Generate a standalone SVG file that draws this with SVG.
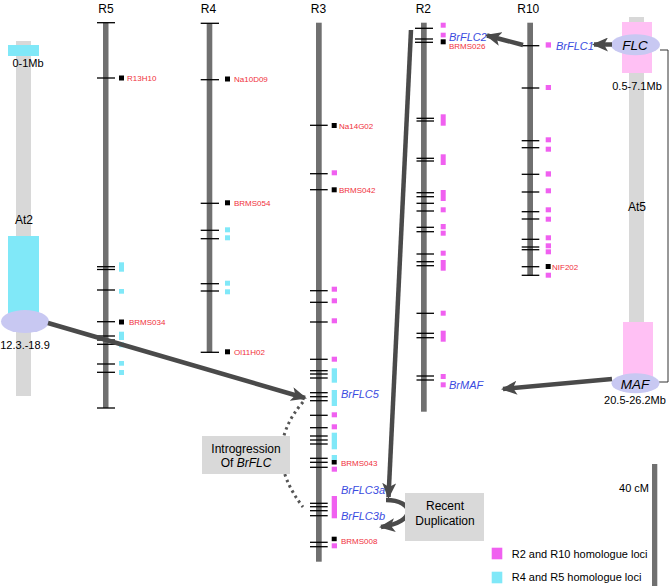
<svg xmlns="http://www.w3.org/2000/svg" width="670" height="586" viewBox="0 0 670 586">
<style>
.bar{fill:#707070}
.at{fill:#d8d8d8}
.tk{stroke:#000;stroke-width:1.3}
.m{fill:#f060f0}
.c{fill:#80e8f8}
.k{fill:#000}
.lab{font-family:"Liberation Sans",Arial,sans-serif;font-size:12px;fill:#000}
.mk{font-family:"Liberation Sans",Arial,sans-serif;font-size:8px;fill:#f0303c}
.gn{font-family:"Liberation Sans",Arial,sans-serif;font-size:11px;font-style:italic;fill:#3a4be0}
.sm{font-family:"Liberation Sans",Arial,sans-serif;font-size:11px;fill:#000}
.arr{stroke:#4a4a4a;stroke-width:4.5;fill:none}
.box{fill:#d9d9d9}
.ell{fill:#c8c8f2}
</style>
<defs>
<marker id="ah" markerUnits="userSpaceOnUse" markerWidth="16" markerHeight="14" refX="14" refY="7" orient="auto">
<path d="M0,0 L16,7 L0,14 L4,7 Z" fill="#4a4a4a"/>
</marker>
</defs>

<g id="At2">
<rect class="at" x="16" y="41" width="15" height="355"/>
<rect class="c" x="8" y="45" width="31" height="11"/>
<text class="sm" x="28" y="67" text-anchor="middle">0-1Mb</text>
<text class="lab" x="24" y="224" text-anchor="middle" font-size="12.5">At2</text>
<rect class="c" x="8" y="236" width="31" height="80"/>
<ellipse class="ell" cx="25" cy="321.5" rx="24" ry="11.5"/>
<text class="sm" x="25" y="349" text-anchor="middle">12.3.-18.9</text>
</g>

<g id="At5">
<rect class="at" x="629" y="17" width="15" height="375"/>
<rect fill="#ffc0f4" x="622" y="22" width="30" height="51"/>
<rect fill="#ffc0f4" x="623" y="322" width="30" height="55"/>
<polyline points="660,50 668,50 668,382 659,382" fill="none" stroke="#333" stroke-width="1"/>
<ellipse class="ell" cx="635.5" cy="44.7" rx="24.5" ry="10.5"/>
<text x="635" y="50" text-anchor="middle" font-family="Liberation Sans,Arial,sans-serif" font-size="13.5" font-style="italic">FLC</text>
<text class="sm" x="637" y="90" text-anchor="middle">0.5-7.1Mb</text>
<text class="lab" x="637" y="211" text-anchor="middle" font-size="12.5">At5</text>
<ellipse class="ell" cx="635.5" cy="383.3" rx="24" ry="10"/>
<text x="635" y="389" text-anchor="middle" font-family="Liberation Sans,Arial,sans-serif" font-size="13.5" font-style="italic">MAF</text>
<text class="sm" x="635" y="404" text-anchor="middle">20.5-26.2Mb</text>
</g>

<g id="R5">
<text class="lab" x="106" y="13" text-anchor="middle">R5</text>
<rect class="bar" x="103" y="22.7" width="5.5" height="385.3"/>
<g class="tk">
<line x1="97" x2="115" y1="22.7" y2="22.7"/><line x1="97" x2="115" y1="78" y2="78"/>
<line x1="97" x2="115" y1="266.7" y2="266.7"/><line x1="97" x2="115" y1="269.5" y2="269.5"/>
<line x1="97" x2="115" y1="290" y2="290"/><line x1="97" x2="115" y1="321.7" y2="321.7"/>
<line x1="97" x2="115" y1="336" y2="336"/><line x1="97" x2="115" y1="340" y2="340"/>
<line x1="97" x2="115" y1="344.3" y2="344.3"/><line x1="97" x2="115" y1="364" y2="364"/>
<line x1="97" x2="115" y1="372.3" y2="372.3"/><line x1="97" x2="115" y1="408" y2="408"/>
</g>
<rect class="k" x="119" y="75.5" width="5" height="5"/>
<text class="mk" x="127" y="81">R13H10</text>
<rect class="c" x="119" y="262.3" width="5" height="9.4"/>
<rect class="c" x="119" y="289" width="5" height="4.7"/>
<rect class="k" x="119" y="319.5" width="5" height="5"/>
<text class="mk" x="129" y="325">BRMS034</text>
<rect class="c" x="119" y="331.7" width="5" height="8.3"/>
<rect class="c" x="119" y="342.3" width="5" height="5"/>
<rect class="c" x="119" y="361" width="5" height="4.7"/>
<rect class="c" x="119" y="370" width="5" height="5"/>
</g>

<g id="R4">
<text class="lab" x="208.5" y="13" text-anchor="middle">R4</text>
<rect class="bar" x="206.7" y="23.3" width="5.6" height="329"/>
<g class="tk">
<line x1="200.7" x2="219" y1="23.3" y2="23.3"/><line x1="200.7" x2="219" y1="79.7" y2="79.7"/>
<line x1="200.7" x2="219" y1="203.3" y2="203.3"/><line x1="200.7" x2="219" y1="230.3" y2="230.3"/>
<line x1="200.7" x2="219" y1="238.7" y2="238.7"/><line x1="200.7" x2="219" y1="283.7" y2="283.7"/>
<line x1="200.7" x2="219" y1="291" y2="291"/><line x1="200.7" x2="219" y1="352.3" y2="352.3"/>
</g>
<rect class="k" x="225" y="76.5" width="5" height="5"/>
<text class="mk" x="234" y="82">Na10D09</text>
<rect class="k" x="225" y="200.3" width="5" height="5"/>
<text class="mk" x="234" y="206">BRMS054</text>
<rect class="c" x="225" y="227.3" width="5" height="5"/>
<rect class="c" x="225" y="235.3" width="5" height="5"/>
<rect class="c" x="225" y="280.7" width="5" height="5"/>
<rect class="c" x="225" y="289.3" width="5" height="5"/>
<rect class="k" x="225" y="349.3" width="5" height="5"/>
<text class="mk" x="234" y="355">Ol11H02</text>
</g>

<g id="R3">
<text class="lab" x="318.5" y="13" text-anchor="middle">R3</text>
<rect class="bar" x="316" y="22.7" width="5.7" height="539"/>
<g class="tk">
<line x1="310" x2="327.7" y1="125.3" y2="125.3"/><line x1="310" x2="327.7" y1="173.7" y2="173.7"/>
<line x1="310" x2="327.7" y1="189.7" y2="189.7"/><line x1="310" x2="327.7" y1="290.7" y2="290.7"/>
<line x1="310" x2="327.7" y1="302.3" y2="302.3"/><line x1="310" x2="327.7" y1="322" y2="322"/>
<line x1="310" x2="327.7" y1="359.3" y2="359.3"/><line x1="310" x2="327.7" y1="370.7" y2="370.7"/>
<line x1="310" x2="327.7" y1="374" y2="374"/><line x1="310" x2="327.7" y1="378" y2="378"/>
<line x1="310" x2="327.7" y1="392.7" y2="392.7"/><line x1="310" x2="327.7" y1="396.7" y2="396.7"/>
<line x1="310" x2="327.7" y1="400.7" y2="400.7"/><line x1="310" x2="327.7" y1="415.3" y2="415.3"/>
<line x1="310" x2="327.7" y1="427.7" y2="427.7"/><line x1="310" x2="327.7" y1="436" y2="436"/>
<line x1="310" x2="327.7" y1="440" y2="440"/><line x1="310" x2="327.7" y1="444" y2="444"/>
<line x1="310" x2="327.7" y1="458.3" y2="458.3"/><line x1="310" x2="327.7" y1="462.3" y2="462.3"/>
<line x1="310" x2="327.7" y1="467.3" y2="467.3"/><line x1="310" x2="327.7" y1="503.3" y2="503.3"/>
<line x1="310" x2="327.7" y1="506.7" y2="506.7"/><line x1="310" x2="327.7" y1="510.7" y2="510.7"/>
<line x1="310" x2="327.7" y1="515.7" y2="515.7"/><line x1="310" x2="327.7" y1="542.3" y2="542.3"/>
<line x1="310" x2="327.7" y1="546.7" y2="546.7"/>
</g>
<rect class="k" x="331.7" y="123" width="5" height="5"/>
<text class="mk" x="339" y="129">Na14G02</text>
<rect class="m" x="331.7" y="170.3" width="5.3" height="5"/>
<rect class="k" x="331.7" y="187.3" width="5" height="5"/>
<text class="mk" x="339" y="193">BRMS042</text>
<rect class="m" x="331.7" y="286.7" width="5.3" height="5"/>
<rect class="m" x="331.7" y="298.3" width="5.3" height="5"/>
<rect class="m" x="331.7" y="318.3" width="5.3" height="5"/>
<rect class="m" x="331.7" y="356.7" width="5.3" height="5"/>
<rect class="c" x="331.7" y="368.3" width="5.3" height="14.4"/>
<rect class="c" x="331.7" y="390" width="5.3" height="16"/>
<text class="gn" x="341" y="398">BrFLC5</text>
<rect class="m" x="331.7" y="412.3" width="5.3" height="5"/>
<rect class="m" x="331.7" y="424.3" width="5.3" height="5"/>
<rect class="c" x="331.7" y="432.7" width="5.3" height="16.6"/>
<rect class="c" x="331.7" y="455" width="5.3" height="5"/>
<rect class="k" x="331.7" y="460" width="5" height="4.5"/>
<text class="mk" x="341" y="466">BRMS043</text>
<rect class="m" x="331.7" y="466.7" width="5.3" height="5"/>
<rect class="m" x="331.7" y="496" width="5.3" height="22.3"/>
<text class="gn" x="341" y="494">BrFLC3a</text>
<text class="gn" x="341" y="519.5">BrFLC3b</text>
<rect class="k" x="331.7" y="536.7" width="5" height="4.5"/>
<text class="mk" x="341" y="543.5">BRMS008</text>
<rect class="m" x="331.7" y="543.3" width="5.3" height="5"/>
</g>

<g id="R2">
<text class="lab" x="423.3" y="13" text-anchor="middle">R2</text>
<rect class="bar" x="421" y="22.7" width="5.7" height="389"/>
<g class="tk">
<line x1="415" x2="433" y1="28.3" y2="28.3"/><line x1="415" x2="433" y1="39" y2="39"/>
<line x1="415" x2="433" y1="42.3" y2="42.3"/><line x1="416.5" x2="434" y1="118.3" y2="118.3"/>
<line x1="416.5" x2="434" y1="121" y2="121"/><line x1="416.5" x2="434" y1="158.3" y2="158.3"/>
<line x1="416.5" x2="434" y1="161" y2="161"/><line x1="416.5" x2="434" y1="192.7" y2="192.7"/>
<line x1="416.5" x2="434" y1="196.7" y2="196.7"/><line x1="416.5" x2="434" y1="203.3" y2="203.3"/>
<line x1="416.5" x2="434" y1="211" y2="211"/><line x1="416.5" x2="434" y1="227.3" y2="227.3"/>
<line x1="416.5" x2="434" y1="231.7" y2="231.7"/><line x1="416.5" x2="434" y1="254" y2="254"/>
<line x1="416.5" x2="434" y1="261.7" y2="261.7"/><line x1="416.5" x2="434" y1="265.7" y2="265.7"/>
<line x1="416.5" x2="434" y1="313.3" y2="313.3"/><line x1="416.5" x2="434" y1="333.3" y2="333.3"/>
<line x1="416.5" x2="434" y1="337.7" y2="337.7"/><line x1="416.5" x2="434" y1="376" y2="376"/>
<line x1="416.5" x2="434" y1="380" y2="380"/>
</g>
<rect class="m" x="440.7" y="22.7" width="5" height="5"/>
<rect class="m" x="440.7" y="32.7" width="5" height="4.7"/>
<text class="gn" x="449" y="40.5">BrFLC2</text>
<rect class="k" x="440.7" y="39.3" width="5" height="5"/>
<text class="mk" x="449" y="49">BRMS026</text>
<rect class="m" x="440.7" y="114.3" width="5" height="11.4"/>
<rect class="m" x="440.7" y="154.3" width="5" height="10.7"/>
<rect class="m" x="440.7" y="190" width="5" height="11"/>
<rect class="m" x="440.7" y="207.3" width="5" height="5"/>
<rect class="m" x="440.7" y="224" width="5" height="5.3"/>
<rect class="m" x="440.7" y="230.7" width="5" height="5"/>
<rect class="m" x="440.7" y="250.7" width="5" height="5"/>
<rect class="m" x="440.7" y="260" width="5" height="10.7"/>
<rect class="m" x="440.7" y="310.7" width="5" height="5"/>
<rect class="m" x="440.7" y="330.7" width="5" height="11"/>
<rect class="m" x="440.7" y="374" width="5" height="5"/>
<rect class="m" x="440.7" y="382.3" width="5" height="5"/>
<text class="gn" x="449" y="389">BrMAF</text>
</g>

<g id="R10">
<text class="lab" x="528.3" y="13" text-anchor="middle">R10</text>
<rect class="bar" x="527.3" y="22.7" width="5.7" height="253.3"/>
<g class="tk">
<line x1="521.7" x2="539.3" y1="45.7" y2="45.7"/><line x1="521.7" x2="539.3" y1="88" y2="88"/>
<line x1="521.7" x2="539.3" y1="140.7" y2="140.7"/><line x1="521.7" x2="539.3" y1="147.7" y2="147.7"/>
<line x1="521.7" x2="539.3" y1="174.3" y2="174.3"/><line x1="521.7" x2="539.3" y1="192" y2="192"/>
<line x1="521.7" x2="539.3" y1="211.7" y2="211.7"/><line x1="521.7" x2="539.3" y1="219" y2="219"/>
<line x1="521.7" x2="539.3" y1="239.3" y2="239.3"/><line x1="521.7" x2="539.3" y1="247" y2="247"/>
<line x1="521.7" x2="539.3" y1="249.7" y2="249.7"/><line x1="521.7" x2="539.3" y1="266.7" y2="266.7"/>
<line x1="521.7" x2="539.3" y1="275.3" y2="275.3"/>
</g>
<rect class="m" x="545.7" y="42.3" width="5.3" height="5.3"/>
<text class="gn" x="556" y="49.5">BrFLC1</text>
<rect class="m" x="545.7" y="85" width="5.3" height="5"/>
<rect class="m" x="545.7" y="137.3" width="5.3" height="5"/>
<rect class="m" x="545.7" y="146.7" width="5.3" height="5"/>
<rect class="m" x="545.7" y="171.3" width="5.3" height="5.3"/>
<rect class="m" x="545.7" y="188.3" width="5.3" height="5"/>
<rect class="m" x="545.7" y="207.3" width="5.3" height="5"/>
<rect class="m" x="545.7" y="216.7" width="5.3" height="5"/>
<rect class="m" x="545.7" y="235.3" width="5.3" height="5"/>
<rect class="m" x="545.7" y="243.3" width="5.3" height="5"/>
<rect class="m" x="545.7" y="249.3" width="5.3" height="5"/>
<rect class="k" x="545.7" y="264" width="5" height="5"/>
<text class="mk" x="552" y="269.5">NIF202</text>
<rect class="m" x="545.7" y="272.7" width="5.3" height="5"/>
</g>

<g id="connectors">
<path d="M303,402 Q260,452 303,507" fill="none" stroke="#555" stroke-width="3" stroke-dasharray="2.5,3.5"/>
<line class="arr" x1="48" y1="323" x2="305" y2="398" marker-end="url(#ah)"/>
<line class="arr" x1="411" y1="30" x2="388.5" y2="497" marker-end="url(#ah)"/>
<path class="arr" d="M386,500 C414,500 418,522 381,527" marker-end="url(#ah)"/>
<line class="arr" x1="523" y1="45" x2="487" y2="35.5" marker-end="url(#ah)"/>
<line class="arr" x1="612" y1="44.5" x2="594" y2="44.5" marker-end="url(#ah)"/>
<line class="arr" x1="612" y1="379" x2="503" y2="389" marker-end="url(#ah)"/>
</g>

<g id="introgression">
<rect class="box" x="202" y="436" width="88" height="38"/>
<text class="lab" x="246" y="452.5" text-anchor="middle">Introgression</text>
<text class="lab" x="246" y="467" text-anchor="middle">Of <tspan font-style="italic">BrFLC</tspan></text>
</g>

<g id="duplication">
<rect class="box" x="405" y="493" width="79" height="48"/>
<text class="lab" x="445" y="510" text-anchor="middle">Recent</text>
<text class="lab" x="445" y="525" text-anchor="middle">Duplication</text>
</g>

<g id="scale">
<rect class="bar" x="652" y="464" width="5.3" height="122"/>
<text class="sm" x="649" y="492" text-anchor="end">40 cM</text>
</g>

<g id="legend">
<rect class="m" x="491.7" y="547.7" width="10.6" height="11.6"/>
<text class="sm" x="511.7" y="558.3">R2 and R10 homologue loci</text>
<rect class="c" x="491.7" y="571.7" width="10.6" height="11.6"/>
<text class="sm" x="511.7" y="580.7">R4 and R5 homologue loci</text>
</g>
</svg>
